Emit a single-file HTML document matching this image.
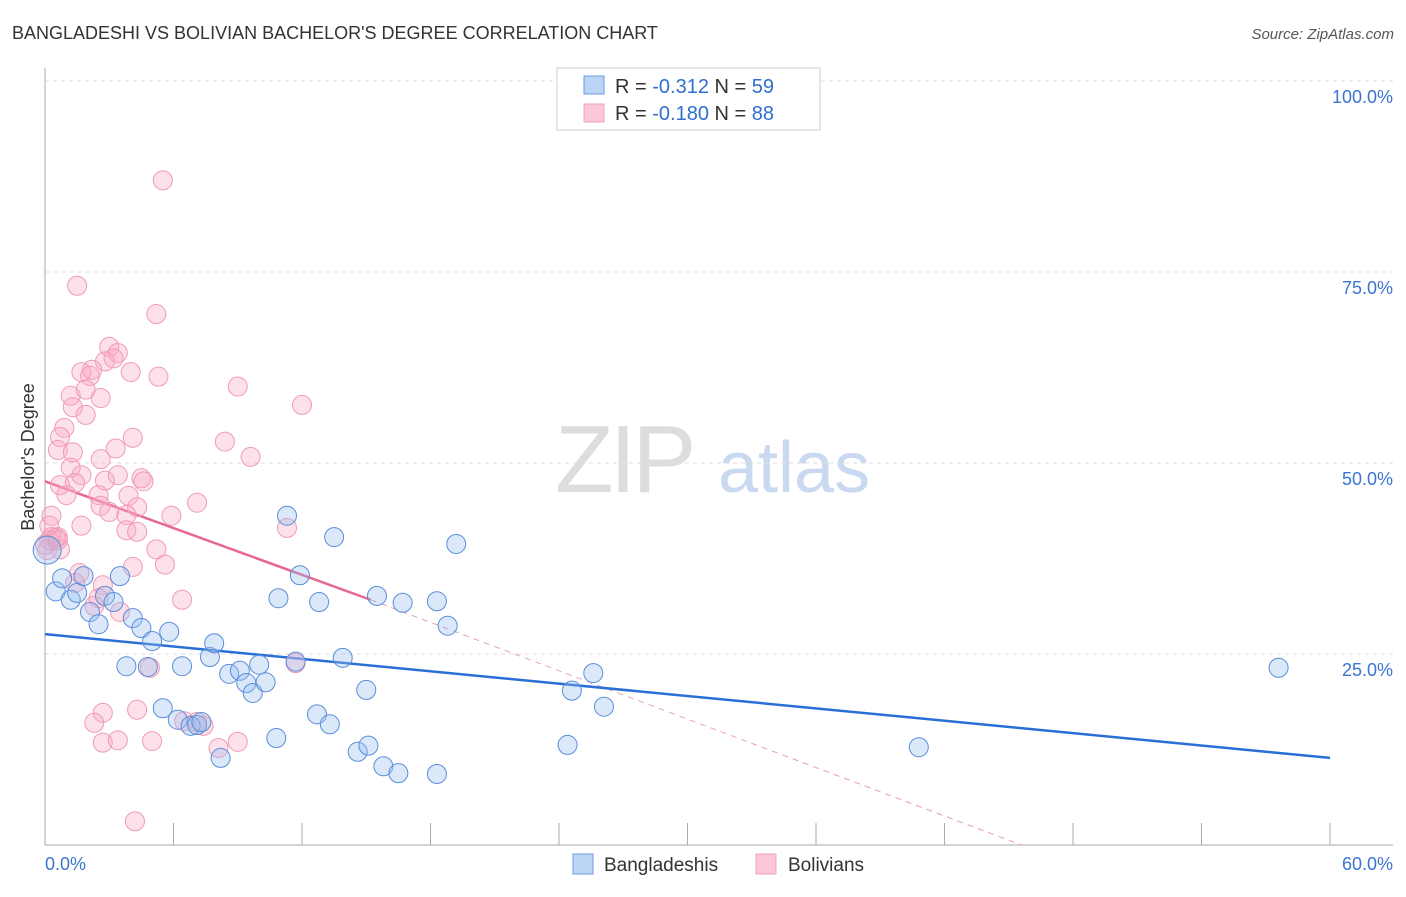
<!DOCTYPE html>
<html><head><meta charset="utf-8"><style>
body{margin:0;background:#fff;font-family:"Liberation Sans",sans-serif}
svg text{font-family:"Liberation Sans",sans-serif}
</style></head><body>
<svg id="chart" width="1406" height="892" xmlns="http://www.w3.org/2000/svg">
<text x="12" y="39" font-size="18" fill="#333">BANGLADESHI VS BOLIVIAN BACHELOR'S DEGREE CORRELATION CHART</text>
<text x="1394" y="39" font-size="15" fill="#555" text-anchor="end" font-style="italic">Source: ZipAtlas.com</text>
<g>
<text x="555" y="492" font-size="96" fill="#ddd" font-family="Liberation Serif" letter-spacing="-4">ZIP</text>
<text x="718" y="492" font-size="72" fill="#c8d9f0">atlas</text>
</g>
<g id="grid"></g>
<g id="axes"></g>
<g id="trends"></g>
<g id="pts"></g>
<text transform="translate(34,457) rotate(-90)" font-size="18" fill="#333" text-anchor="middle">Bachelor's Degree</text>
<g>
<rect x="557" y="68" width="263" height="62" fill="#fff" stroke="#ccc"/>
<rect x="584" y="76" width="20" height="18" fill="#bcd4f6" stroke="#6a9be0"/>
<rect x="584" y="104" width="20" height="18" fill="#fbc8d8" stroke="#f0a0b8"/>
<text x="615" y="93" font-size="20" fill="#333">R = <tspan fill="#2f6fd0">-0.312</tspan>   N = <tspan fill="#2f6fd0">59</tspan></text>
<text x="615" y="120" font-size="20" fill="#333">R = <tspan fill="#2f6fd0">-0.180</tspan>   N = <tspan fill="#2f6fd0">88</tspan></text>
</g>
<g>
<rect x="573" y="854" width="20" height="20" fill="#bcd4f6" stroke="#6a9be0"/>
<text x="604" y="871" font-size="19" fill="#333">Bangladeshis</text>
<rect x="756" y="854" width="20" height="20" fill="#fbc8d8" stroke="#f0a0b8"/>
<text x="788" y="871" font-size="19" fill="#333">Bolivians</text>
</g>
</svg>
<script>
const xTicks=[0,6,12,18,24,30,36,42,48,54,60];
const yTicks=[25,50,75,100];
const yTickLabels=["25.0%","50.0%","75.0%","100.0%"];
const xTickLabels=["0.0%","60.0%"];
const blueX=[0.1,0.5,0.8,1.2,1.5,1.8,2.1,2.5,2.8,3.2,3.5,3.8,4.1,4.5,4.8,5.0,5.5,5.8,6.2,6.4,6.8,7.1,7.3,7.7,7.9,8.2,8.6,9.1,9.4,9.7,10.0,10.3,10.8,10.9,11.3,11.7,11.9,12.7,12.8,13.3,13.5,13.9,14.6,15.0,15.1,15.5,15.8,16.5,16.7,18.3,18.3,18.8,19.2,24.4,24.6,25.6,26.1,40.8,57.6];
const blueY=[38.6,33.2,34.9,32.1,33.0,35.2,30.5,28.9,32.6,31.8,35.2,23.4,29.7,28.4,23.3,26.7,17.9,27.9,16.4,23.4,15.6,15.7,16.1,24.6,26.4,11.4,22.4,22.8,21.2,19.9,23.6,21.3,14.0,32.3,43.1,24.0,35.3,17.1,31.8,15.8,40.3,24.5,12.2,20.3,13.0,32.6,10.3,9.4,31.7,9.3,31.9,28.7,39.4,13.1,20.2,22.5,18.1,12.8,23.2];
const pinkX=[5.5,1.5,5.2,3.0,3.4,2.8,3.2,4.0,1.7,2.1,2.2,5.3,9.0,1.2,1.9,2.6,12.0,1.3,1.9,0.9,0.7,0.6,1.3,4.1,8.4,3.3,9.6,2.6,1.2,1.7,0.7,1.4,2.8,3.4,4.5,4.6,1.0,2.5,3.9,2.6,4.3,7.1,3.0,3.8,5.9,0.3,0.2,1.7,3.8,4.3,11.3,0.3,0.6,0.1,0.7,5.2,5.6,4.1,1.6,1.4,2.7,2.5,6.4,2.3,3.5,4.9,11.7,2.7,4.3,2.3,6.5,7.1,7.4,2.7,3.4,5.0,8.1,9.0,4.2,0.2,0.5,0.0,0.6];
const pinkY=[87.0,73.2,69.5,65.2,64.4,63.3,63.7,61.9,61.9,61.4,62.2,61.3,60.0,58.8,59.6,58.5,57.6,57.3,56.3,54.6,53.4,51.7,51.4,53.3,52.8,51.9,50.8,50.5,49.4,48.4,47.1,47.4,47.7,48.4,48.0,47.6,45.8,45.8,45.7,44.4,44.2,44.8,43.6,43.2,43.1,43.1,41.8,41.8,41.2,41.0,41.5,40.3,40.3,38.6,38.7,38.7,36.7,36.4,35.6,34.3,34.0,32.3,32.1,31.3,30.5,23.2,23.8,17.3,17.7,16.0,16.2,16.1,15.6,13.4,13.7,13.6,12.7,13.5,3.1,39.9,40.2,39.3,39.9];
const blueTrend=[[0,27.6],[60,11.4]];
const pinkTrendSolid=[[0,47.6],[15.2,32.1]];
const pinkTrendDash=[[15.2,32.1],[45.6,0]];
const NS="http://www.w3.org/2000/svg";
const X0=45,X1=1330,Y0=845,YT=81;
const sx=v=>X0+v/60*(X1-X0);
const sy=v=>Y0-v/100*(Y0-YT);
function mk(tag,attrs,parent){const e=document.createElementNS(NS,tag);for(const k in attrs)e.setAttribute(k,attrs[k]);parent.appendChild(e);return e;}
const grid=document.getElementById('grid'),axes=document.getElementById('axes'),tr=document.getElementById('trends'),pts=document.getElementById('pts');
yTicks.forEach((t,i)=>{
 const l=mk('line',{x1:X0,x2:1393,y1:sy(t),y2:sy(t),stroke:'#ddd','stroke-dasharray':'4,4'},grid);
 
 
 const tx=mk('text',{x:1393,y:sy(t)+22,'font-size':18,fill:'#3a75d0','text-anchor':'end'},grid);
 tx.textContent=yTickLabels[i];
 
 
});
const ax=mk('line',{x1:X0,x2:X0,y1:68,y2:Y0,stroke:'#aaa'},axes);


const bx=mk('line',{x1:X0,x2:1393,y1:Y0,y2:Y0,stroke:'#aaa'},axes);


xTicks.forEach(t=>{
 const l=mk('line',{x1:sx(t),x2:sx(t),y1:Y0-22,y2:Y0,stroke:'#aaa'},axes);
 
 
});
const xl0=mk('text',{x:45,y:870,'font-size':18,fill:'#3a75d0'},axes);xl0.textContent=xTickLabels[0];


const xl1=mk('text',{x:1393,y:870,'font-size':18,fill:'#3a75d0','text-anchor':'end'},axes);xl1.textContent=xTickLabels[1];


function dot(x,y,fill,stroke,name,r){const c=mk('circle',{cx:sx(x),cy:sy(y),r:r,fill:fill,stroke:stroke,'stroke-width':1},pts);
 
 }
pinkX.forEach((x,i)=>dot(x,pinkY[i],'rgba(248,170,196,0.35)','#f09ab6','bolivian-point',9.5));
blueX.forEach((x,i)=>dot(x,blueY[i],'rgba(150,190,240,0.35)','#5a8ed8','bangladeshi-point',i===0?14:9.5));
function ln(p,stroke,w,dash,name){const l=mk('line',{x1:sx(p[0][0]),y1:sy(p[0][1]),x2:sx(p[1][0]),y2:sy(p[1][1]),stroke:stroke,'stroke-width':w},tr);
 if(dash)l.setAttribute('stroke-dasharray',dash);
 
 }
ln(pinkTrendDash,'#e8a0b8',1,'6,5','bolivian-trend-extension');
ln(blueTrend,'#2a6fd6',2.5,null,'bangladeshi-trend-line');
ln(pinkTrendSolid,'#e8668f',2.5,null,'bolivian-trend-line');
</script>
</body></html>
